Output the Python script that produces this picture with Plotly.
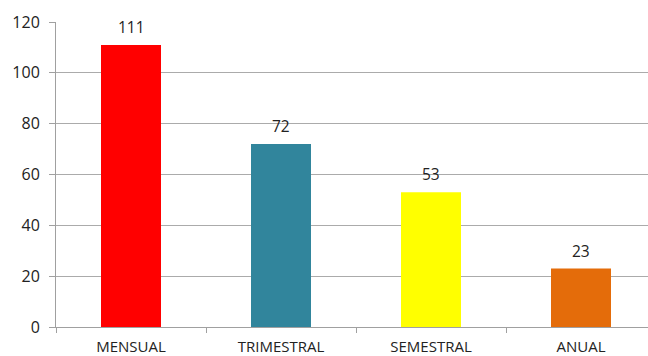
import plotly.graph_objects as go

categories = ["MENSUAL", "TRIMESTRAL", "SEMESTRAL", "ANUAL"]
values = [111, 72, 53, 23]
colors = ["#FF0000", "#31859C", "#FFFF00", "#E46C0A"]
y_ticks = [0, 20, 40, 60, 80, 100, 120]

font_family = "Open Sans, Lato, sans-serif"

fig = go.Figure()
fig.add_trace(go.Bar(
    x=categories, y=values, marker_color=colors, marker_line_width=0,
    width=0.4, hoverinfo="skip",
))
for c, v in zip(categories, values):
    fig.add_annotation(x=c, y=v, text=str(v), showarrow=False, yanchor="middle",
                       yshift=18, font=dict(size=15.5, color="#222", family=font_family))

fig.update_layout(
    width=648, height=356,
    margin=dict(l=56, r=0, t=22, b=29),
    paper_bgcolor="white", plot_bgcolor="white",
    showlegend=False,
    xaxis=dict(
        type="category", range=[-0.5, 3.4467],
        showgrid=False, showline=True, linecolor="#A0A0A0", linewidth=1,
        ticks="outside", tickson="boundaries", ticklen=5, tickcolor="#A0A0A0",
        ticklabelstandoff=6,
        tickfont=dict(size=15, color="#222", family=font_family),
    ),
    yaxis=dict(
        range=[0, 120], tickvals=y_ticks,
        showgrid=True, gridcolor="#ABABAB", gridwidth=1,
        showline=True, linecolor="#A0A0A0", linewidth=1,
        ticks="outside", ticklen=6, tickcolor="#A0A0A0",
        ticklabelstandoff=6,
        tickfont=dict(size=16, color="#222", family=font_family),
        zeroline=False,
    ),
)
fig.write_html("out.html")
